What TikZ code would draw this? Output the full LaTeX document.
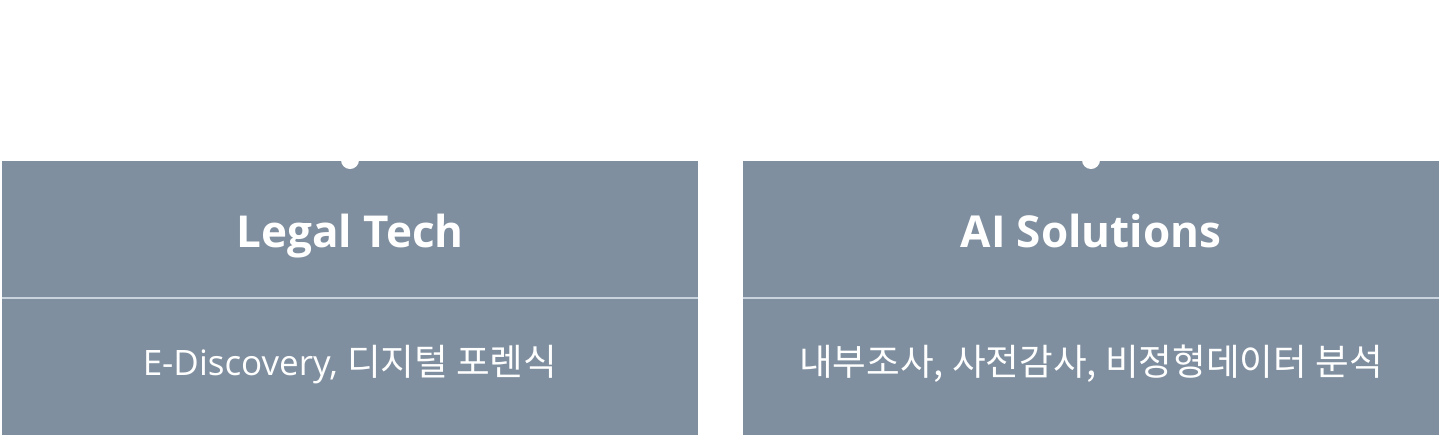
\documentclass[tikz,border=0pt]{standalone}
\usepackage{fontspec}
\setmainfont{Open Sans}
\newfontfamily\kr{Noto Sans CJK KR}
\definecolor{boxfill}{HTML}{7F8F9F}
\definecolor{divline}{HTML}{C9D3DE}
\newcommand{\krsub}{\kr\fontsize{36.6}{38}\selectfont}
\begin{document}
\begin{tikzpicture}[x=1pt,y=-1pt,
  panel/.style={fill=boxfill,draw=none},
  divider/.style={draw=divline,line width=2pt},
  dot/.style={circle,fill=white,draw=none,minimum size=18pt,inner sep=0pt},
  title/.style={anchor=base,text=white,font=\bfseries\fontsize{44}{48}\selectfont,inner sep=0pt},
  sub/.style={anchor=base,text=white,font=\fontsize{35}{38}\selectfont,inner sep=0pt}]
\useasboundingbox (0,0) rectangle (1441,437);
\fill[white] (0,0) rectangle (1441,437);
% left panel
\path[panel] (2,161) rectangle (698,435);
\draw[divider] (2,298) -- (698,298);
\node[dot] (ldot) at (350,160) {};
\node[title] (lt) at (350,247) {Legal Tech};
\node[sub] (ls) at (350,375) {E-Discovery, {\krsub 디지털 포렌식}};
% right panel
\path[panel] (743,161) rectangle (1439,435);
\draw[divider] (743,298) -- (1439,298);
\node[dot] (rdot) at (1091,160) {};
\node[title] (rt) at (1091,247) {AI Solutions};
\node[sub] (rs) at (1091,375) {\krsub 내부조사, 사전감사, 비정형데이터 분석};
\end{tikzpicture}
\end{document}
